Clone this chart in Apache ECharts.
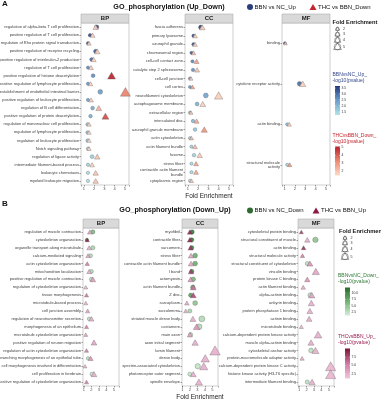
<!DOCTYPE html>
<html><head><meta charset="utf-8">
<script src="https://cdn.jsdelivr.net/npm/echarts@6/dist/echarts.min.js"></script>
<style>html,body{margin:0;padding:0;background:#fff}#c{width:381px;height:400px}</style>
</head><body><div id="c"></div>
<script>
// ---------- Panel A : GO_phosphorylation (Up_Down) ----------
const aBPTerms = ["regulation of alpha-beta T cell proliferation","positive regulation of T cell proliferation","regulation of Rho protein signal transduction","positive regulation of receptor recycling","positive regulation of interleukin-2 production","regulation of T cell proliferation","positive regulation of histone deacetylation","positive regulation of lymphocyte proliferation","establishment of endothelial intestinal barrier","positive regulation of leukocyte proliferation","regulation of B cell differentiation","positive regulation of protein deacetylation","regulation of mononuclear cell proliferation","regulation of lymphocyte proliferation","regulation of leukocyte proliferation","Notch signaling pathway","regulation of ligase activity","intermediate filament-based process","leukocyte chemotaxis","myeloid leukocyte migration"];
const aBPCircleFE = [2.25,1.6,1.4,2.15,1.75,1.4,1.9,1.4,2.6,1.4,1.85,1.65,1.35,1.35,1.35,1.4,1.8,1.4,1.4,1.4];
const aBPCircleP  = [3.5,3.4,3.3,3.2,3.0,2.7,2.6,2.5,2.4,2.4,2.2,2.1,1.9,1.9,1.85,1.7,1.6,1.5,1.4,1.35];
const aBPTriFE    = [2.15,1.85,1.5,2.3,1.95,1.7,3.7,1.65,5.05,1.7,2.45,3.1,1.5,1.5,1.5,1.5,2.3,1.8,2.15,2.15];
const aBPTriP     = [1.7,1.8,1.7,1.8,1.7,1.8,5.0,1.8,3.4,1.8,2.4,4.3,1.7,1.7,1.7,1.6,2.0,1.8,2.0,2.0];

const aCCTerms = ["fascia adherens","primary lysosome","azurophil granule","chromosomal region","cell-cell contact zone","catalytic step 2 spliceosome","cell-cell junction","cell cortex","neurofilament cytoskeleton","autophagosome membrane","extracellular region","intercalated disc","azurophil granule membrane","actin cytoskeleton","actin filament bundle","fusome","stress fiber","contractile actin filament\nbundle","cytoplasmic region"];
const aCCCircleFE = [2.25,1.55,1.55,1.35,1.45,1.5,1.2,1.2,2.75,1.9,1.2,1.5,1.7,1.2,1.35,1.6,1.35,1.35,1.2];
const aCCCircleP  = [3.5,3.4,3.3,3.2,2.7,2.6,2.6,2.5,2.3,2.1,2.0,2.0,1.7,1.6,1.6,1.5,1.45,1.45,1.4];
const aCCTriFE    = [2.4,1.7,1.7,1.55,1.85,1.9,1.3,1.45,4.0,2.45,1.3,1.85,2.6,1.35,1.7,2.15,1.8,1.8,1.35];
const aCCTriP     = [1.8,1.8,1.8,2.2,2.8,2.0,1.8,2.8,1.8,1.8,2.0,2.6,3.0,2.2,2.2,1.9,2.7,2.6,2.0];

const aMFTerms = ["binding","cytokine receptor activity","actin binding","structural molecule\nactivity"];
const aMFCircleFE = [1.03,2.45,1.25,1.25];
const aMFCircleP  = [3.6,3.0,2.0,1.5];
const aMFTriFE    = [1.08,2.75,1.45,1.5];
const aMFTriP     = [1.8,1.8,1.8,2.8];

// ---------- Panel B : GO_phosphorylation (Down_Up) ----------
const bBPTerms = ["regulation of muscle contraction","cytoskeleton organization","organelle transport along microtubule","calcium-mediated signaling","actin cytoskeleton organization","mitochondrion localization","positive regulation of muscle contraction","regulation of cytoskeleton organization","tissue morphogenesis","microtubule-based process","cell junction assembly","regulation of neurotransmitter secretion","morphogenesis of an epithelium","microtubule cytoskeleton organization","positive regulation of neuron migration","regulation of actin cytoskeleton organization","branching morphogenesis of an epithelial tube","cell morphogenesis involved in differentiation","cell proliferation in forebrain","positive regulation of cytoskeleton organization"];
const bBPCircleFE = [2.2,1.4,2.2,1.9,null,2.0,2.0,null,null,null,null,1.7,null,null,null,null,1.55,null,2.1,null];
const bBPCircleP  = [6.0,11.0,3.5,3.0,null,3.0,2.5,null,null,null,null,2.5,null,null,null,null,2.5,null,2.0,null];
const bBPTriFE    = [1.8,1.45,1.7,1.55,1.45,1.7,2.2,1.25,1.35,1.25,1.5,2.0,1.35,1.25,2.35,1.35,1.9,1.15,2.35,1.35];
const bBPTriP     = [3.0,9.0,2.5,3.0,5.0,2.5,3.5,2.0,5.0,2.2,3.0,2.5,5.0,3.0,3.0,5.0,4.0,2.0,2.5,5.0];

const bCCTerms = ["myofibril","contractile fiber","sarcomere","stress fiber","contractile actin filament bundle","I band","actomyosin","actin filament bundle","Z disc","sarcoplasm","sarcolemma","striated muscle dense body","costamere","main axon","axon initial segment","lamin filament","dense body","spectrin-associated cytoskeleton","photoreceptor outer segment","spindle envelope"];
const bCCCircleFE = [2.3,2.25,2.25,2.7,2.7,2.25,2.45,2.4,2.1,2.7,2.0,3.6,3.25,2.1,null,null,null,3.05,2.0,null];
const bCCCircleP  = [11.0,11.0,10.5,7.0,7.0,10.0,6.0,7.0,8.0,5.0,3.5,3.0,3.0,3.0,null,null,null,2.0,2.0,null];
const bCCTriFE    = [2.0,2.0,2.1,2.15,2.15,2.15,2.1,2.45,2.45,1.6,1.45,2.4,2.9,2.0,2.7,5.35,4.05,3.85,2.45,3.2];
const bCCTriP     = [9.0,9.0,8.5,3.0,3.0,8.0,4.0,6.0,7.5,2.5,2.5,2.5,4.0,3.0,2.5,2.5,2.5,2.5,2.5,2.5];

const bMFTerms = ["cytoskeletal protein binding","structural constituent of muscle","actin binding","structural molecule activity","structural constituent of cytoskeleton","vinculin binding","protein kinase C binding","actin filament binding","alpha-actinin binding","ankyrin binding","protein phosphatase 1 binding","actinin binding","microtubule binding","calcium-dependent protein kinase activity","muscle alpha-actinin binding","cytoskeletal anchor activity","protein-macromolecule adaptor activity","calcium-dependent protein kinase C activity","histone kinase activity (H3-T6 specific)","intermediate filament binding"];
const bMFCircleFE = [null,3.2,null,null,2.1,null,null,null,2.5,null,null,null,null,null,null,2.6,null,null,null,2.1];
const bMFCircleP  = [null,5.0,null,null,2.5,null,null,null,2.5,null,null,null,null,null,null,2.5,null,null,null,2.5];
const bMFTriFE    = [1.3,2.1,1.6,1.45,2.45,3.25,2.1,1.55,2.7,2.65,2.45,2.35,1.3,3.55,2.6,3.2,1.4,5.25,5.25,2.75];
const bMFTriP     = [8.0,2.5,8.5,5.0,4.0,3.0,4.0,2.5,3.0,2.5,2.5,2.5,2.0,2.5,2.5,2.5,2.5,2.2,2.2,2.5];

// legend tick values
const sizeLegendValues = [2,3,4,5];
const blueTicks  = [1.5,2.0,2.5,3.0,3.5];
const redTicks   = [2,3,4,5];
const greenTicks = [2.5,5.0,7.5,10.0];
const pinkTicks  = [2.5,5.0,7.5];

// ---------- styling / layout ----------
const FONT = 'Liberation Sans, Arial, sans-serif';
const scales = {
  blue:  {min:1.25, max:3.67, colors:['#b3e4e7','#6b9dcb','#22367a']},
  red:   {min:1.5,  max:5.1,  colors:['#fddcc8','#ec8a72','#b81f2a']},
  green: {min:1.2,  max:12.2, colors:['#d2edd8','#72b373','#286a2c']},
  pink:  {min:1.1,  max:10.1, colors:['#f0c8dd','#d07aa5','#7a1236']}
};
const sizeOf = fe => 1.6 + 1.2 * fe;

const panels = [
  {terms:aBPTerms, cFE:aBPCircleFE, cP:aBPCircleP, tFE:aBPTriFE, tP:aBPTriP, left:81, top:23, w:48, h:162, xmin:0.72, xmax:5.4, strip:'BP'},
  {terms:aCCTerms, cFE:aCCCircleFE, cP:aCCCircleP, tFE:aCCTriFE, tP:aCCTriP, left:185, top:23, w:48, h:162, xmin:0.72, xmax:5.4, strip:'CC', xname:true},
  {terms:aMFTerms, cFE:aMFCircleFE, cP:aMFCircleP, tFE:aMFTriFE, tP:aMFTriP, left:282, top:23, w:48, h:162, xmin:0.75, xmax:5.4, strip:'MF'},
  {terms:bBPTerms, cFE:bBPCircleFE, cP:bBPCircleP, tFE:bBPTriFE, tP:bBPTriP, left:83, top:228, w:36, h:158, xmin:0.88, xmax:5.7, strip:'BP'},
  {terms:bCCTerms, cFE:bCCCircleFE, cP:bCCCircleP, tFE:bCCTriFE, tP:bCCTriP, left:182, top:228, w:36, h:158, xmin:0.95, xmax:5.75, strip:'CC', xname:true},
  {terms:bMFTerms, cFE:bMFCircleFE, cP:bMFCircleP, tFE:bMFTriFE, tP:bMFTriP, left:298, top:228, w:36, h:158, xmin:0.85, xmax:5.7, strip:'MF'}
];

const grids = [], xAxes = [], yAxes = [], series = [], graphic = [];
panels.forEach((p, i) => {
  grids.push({left:p.left, top:p.top, width:p.w, height:p.h, show:true, borderColor:'#b0b0b0', borderWidth:0.6, backgroundColor:'#fff', containLabel:false, outerBoundsMode:'none'});
  xAxes.push({type:'value', gridIndex:i, min:p.xmin, max:p.xmax, minInterval:1, maxInterval:1,
    name: p.xname ? 'Fold Enrichment' : '', nameLocation:'middle', nameGap:8,
    nameTextStyle:{fontSize:6.5, color:'#222', fontFamily:FONT},
    axisLine:{show:false}, axisTick:{show:true, length:1.5, lineStyle:{color:'#444', width:0.5}},
    axisLabel:{fontSize:4, color:'#4d4d4d', margin:1.5, fontFamily:FONT,
      formatter: v => Math.abs(v - Math.round(v)) < 1e-6 ? String(Math.round(v)) : ''},
    splitLine:{show:false}});
  yAxes.push({type:'category', gridIndex:i, data:p.terms, inverse:true,
    axisLine:{show:false}, axisTick:{show:true, alignWithLabel:true, length:1.5, lineStyle:{color:'#444', width:0.5}},
    axisLabel:{interval:0, fontSize:4, lineHeight:4.4, color:'#404040', margin:2, fontFamily:FONT},
    splitLine:{show:false}});
  const mk = (fe, pv) => fe.map((v, k) => v == null ? null : [v, k, pv[k]]).filter(d => d);
  series.push({type:'scatter', xAxisIndex:i, yAxisIndex:i, symbol:'circle', data:mk(p.cFE, p.cP),
    symbolSize: v => sizeOf(v[0]), itemStyle:{borderColor:'#555', borderWidth:0.35, opacity:0.92}, silent:true});
  series.push({type:'scatter', xAxisIndex:i, yAxisIndex:i, symbol:'triangle', data:mk(p.tFE, p.tP),
    symbolSize: v => [1.3 * sizeOf(v[0]), 1.13 * sizeOf(v[0])], itemStyle:{borderColor:'#555', borderWidth:0.35, opacity:0.92}, silent:true});
  // facet strip
  graphic.push({type:'rect', shape:{x:p.left, y:p.top - 9, width:p.w, height:9}, style:{fill:'#d9d9d9', stroke:'#b0b0b0', lineWidth:0.6}, silent:true});
  graphic.push({type:'text', x:p.left + p.w / 2, y:p.top - 4.5, style:{text:p.strip, fontSize:6, fontWeight:'bold', fill:'#1a1a1a', align:'center', verticalAlign:'middle', fontFamily:FONT}, silent:true});
});

const vm = (name, idx) => ({type:'continuous', show:false, dimension:2, seriesIndex:idx, min:scales[name].min, max:scales[name].max, inRange:{color:scales[name].colors}});
const visualMap = [vm('blue',[0,2,4]), vm('red',[1,3,5]), vm('green',[6,8,10]), vm('pink',[7,9,11])];

// ---------- titles & top legends ----------
function txt(x, y, s, size, opts) {
  graphic.push({type:'text', x, y, style:Object.assign({text:s, fontSize:size, fill:'#111', align:'left', verticalAlign:'middle', fontFamily:FONT}, opts || {}), silent:true});
}
txt(2, 4, 'A', 8, {fontWeight:'bold'});
txt(2, 204, 'B', 8, {fontWeight:'bold'});
txt(169, 7, 'GO_phosphorylation (Up_Down)', 7.2, {fontWeight:'bold', align:'center'});
txt(175, 210.5, 'GO_phosphorylation (Down_Up)', 7.2, {fontWeight:'bold', align:'center'});

function triPts(cx, cy, w) { const h = w * 0.87; return [[cx, cy - h / 2], [cx + w / 2, cy + h / 2], [cx - w / 2, cy + h / 2]]; }
graphic.push({type:'circle', shape:{cx:250, cy:7, r:3}, style:{fill:'#2b3d7f'}, silent:true});
txt(254.5, 7, 'BBN vs NC_Up', 6);
graphic.push({type:'polygon', shape:{points:triPts(313, 7, 7)}, style:{fill:'#c4262d'}, silent:true});
txt(318, 7, 'THC vs BBN_Down', 6);
graphic.push({type:'circle', shape:{cx:250, cy:210.5, r:3}, style:{fill:'#2e6b30'}, silent:true});
txt(254.5, 210.5, 'BBN vs NC_Down', 6);
graphic.push({type:'polygon', shape:{points:triPts(316, 210.5, 7)}, style:{fill:'#8b1a44'}, silent:true});
txt(321, 210.5, 'THC vs BBN_Up', 6);

// ---------- size legends ----------
function sizeLegend(x0, y0, ys, lx) {
  txt(x0, y0, 'Fold Enrichment', 5.7, {fontWeight:'bold'});
  sizeLegendValues.forEach((v, k) => {
    const d = sizeOf(v) * 0.85;
    graphic.push({type:'circle', shape:{cx:lx, cy:ys[k], r:d / 2}, style:{fill:'none', stroke:'#333', lineWidth:0.45}, silent:true});
    graphic.push({type:'polygon', shape:{points:triPts(lx, ys[k] - 0.5, d * 1.2)}, style:{fill:'none', stroke:'#333', lineWidth:0.45}, silent:true});
    txt(lx + 5.5, ys[k], String(v), 3.6, {fill:'#333'});
  });
}
sizeLegend(332.5, 22.5, [29, 34.3, 40, 46.7], 337.5);
sizeLegend(339, 231.5, [238, 243, 249.3, 256.5], 345);

// ---------- colour bar legends ----------
function colorBar(name, title1, x0, yT, barX, barY, barH, ticks, titleColor, dec) {
  const sc = scales[name];
  txt(x0, yT, title1, 5, {fill:titleColor});
  txt(x0, yT + 6.5, '-log10(pvalue)', 5, {fill:titleColor});
  graphic.push({type:'rect', shape:{x:barX, y:barY, width:5, height:barH},
    style:{fill:new echarts.graphic.LinearGradient(0, 0, 0, 1, [
      {offset:0, color:sc.colors[2]}, {offset:0.5, color:sc.colors[1]}, {offset:1, color:sc.colors[0]}])}, silent:true});
  ticks.forEach(t => {
    const y = barY + (sc.max - t) / (sc.max - sc.min) * barH;
    graphic.push({type:'line', shape:{x1:barX, y1:y, x2:barX + 1, y2:y}, style:{stroke:'#fff', lineWidth:0.4}, silent:true});
    graphic.push({type:'line', shape:{x1:barX + 4, y1:y, x2:barX + 5, y2:y}, style:{stroke:'#fff', lineWidth:0.4}, silent:true});
    txt(barX + 6.5, y, dec ? t.toFixed(1) : String(t), 3.4, {fill:'#333'});
  });
}
colorBar('blue', 'BBNvsNC_Up_', 332.5, 74.5, 335, 86, 29, blueTicks, '#33478a', true);
colorBar('red', 'THCvsBBN_Down_', 332.5, 135.5, 335, 146.5, 29, redTicks, '#c0262d', false);
colorBar('green', 'BBNvsNC_Down_', 338, 275.5, 345, 287.5, 28, greenTicks, '#2f7a34', true);
colorBar('pink', 'THCvsBBN_Up_', 338, 336.5, 345, 348.5, 30, pinkTicks, '#9a1d50', true);

const chart = echarts.init(document.getElementById('c'), null, {renderer:'canvas'});
chart.setOption({animation:false, backgroundColor:'#fff', grid:grids, xAxis:xAxes, yAxis:yAxes, series, visualMap, graphic});
</script></body></html>
